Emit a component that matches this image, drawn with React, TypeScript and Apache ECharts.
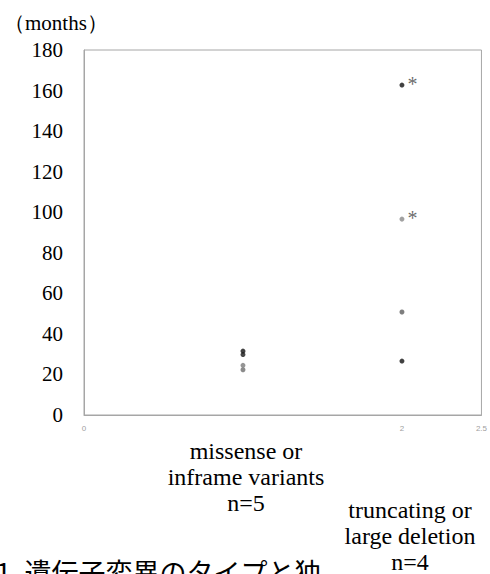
import React, { useEffect, useRef } from "react";
import * as echarts from "echarts";

const categoryPositions = [1, 2];
const categoryLabels = [
  "missense or\ninframe variants\nn=5",
  "truncating or\nlarge deletion\nn=4",
];
const missenseMonths = [31.5, 29.8, 24.5, 22.3];
const missenseShades = ["#111111", "#1a1a1a", "#7a7a7a", "#6e6e6e"];
const truncatingMonths = [162.7, 96.6, 50.8, 26.6];
const truncatingShades = ["#111111", "#8a8a8a", "#5e5e5e", "#111111"];
const truncatingMarks = ["*", "*", "", ""];
const yTicks = [0, 20, 40, 60, 80, 100, 120, 140, 160, 180];
const xTickLabels = ["0", "2", "2.5"];
const yUnit = "（months）";
const caption = "1. 遺伝子変異のタイプと独";

const SERIF = "'Liberation Serif', 'Times New Roman', serif";

export default function App() {
  const ref = useRef<HTMLDivElement>(null);
  useEffect(() => {
    if (!ref.current) return;
    const chart = echarts.init(ref.current, undefined, { renderer: "svg" });
    const pts: any[] = [];
    missenseMonths.forEach((v, i) =>
      pts.push({ value: [categoryPositions[0], v], itemStyle: { color: missenseShades[i] } })
    );
    truncatingMonths.forEach((v, i) =>
      pts.push({
        value: [categoryPositions[1], v],
        itemStyle: { color: truncatingShades[i] },
        label: { show: truncatingMarks[i] !== "", formatter: truncatingMarks[i] },
      })
    );
    chart.setOption({
      animation: false,
      grid: {
        left: 84,
        top: 50,
        right: 3,
        bottom: 159,
        show: true,
        borderColor: "#a6a6a6",
        borderWidth: 1,
      },
      xAxis: {
        type: "value",
        min: 0,
        max: 2.5,
        interval: 0.5,
        axisLine: { show: true, lineStyle: { color: "#a6a6a6" } },
        axisTick: { show: false },
        splitLine: { show: false },
        axisLabel: {
          color: "#a0a0a0",
          fontSize: 8,
          margin: 9,
          showMaxLabel: true,
          formatter: (v: number) => (xTickLabels.includes(String(v)) ? String(v) : ""),
        },
      },
      yAxis: {
        type: "value",
        min: yTicks[0],
        max: yTicks[yTicks.length - 1],
        interval: 20,
        axisLine: { show: true, lineStyle: { color: "#a6a6a6" } },
        axisTick: { show: false },
        splitLine: { show: false },
        axisLabel: { color: "#000", fontSize: 21, fontFamily: SERIF, margin: 21 },
      },
      series: [
        {
          type: "scatter",
          symbolSize: 5,
          data: pts,
          label: {
            position: "right",
            distance: 2,
            offset: [1, -1],
            color: "#444",
            fontSize: 20,
            fontFamily: SERIF,
          },
        },
      ],
      graphic: [
        {
          type: "text",
          left: 4,
          top: 12,
          z: 5,
          style: { text: yUnit, font: `21px ${SERIF}`, fill: "#000" },
        },
        {
          type: "text",
          x: 246,
          y: 438,
          z: 5,
          style: {
            text: categoryLabels[0],
            font: `24px ${SERIF}`,
            fill: "#000",
            align: "center",
            verticalAlign: "top",
            lineHeight: 26,
          },
        },
        {
          type: "text",
          x: 410,
          y: 497,
          z: 5,
          style: {
            text: categoryLabels[1],
            font: `24px ${SERIF}`,
            fill: "#000",
            align: "center",
            verticalAlign: "top",
            lineHeight: 26,
          },
        },
        {
          type: "text",
          x: -4,
          y: 558,
          z: 1,
          style: {
            text: caption,
            font: "27px 'Noto Sans CJK JP'",
            fill: "#000",
            verticalAlign: "top",
          },
        },
        {
          type: "rect",
          z: 2,
          shape: { x: 323, y: 545, width: 65, height: 30 },
          style: { fill: "#fff" },
        },
      ],
    });
    return () => chart.dispose();
  }, []);
  return (
    <div
      ref={ref}
      style={{ position: "fixed", left: 0, top: 0, width: 490, height: 574, background: "#fff" }}
    />
  );
}
